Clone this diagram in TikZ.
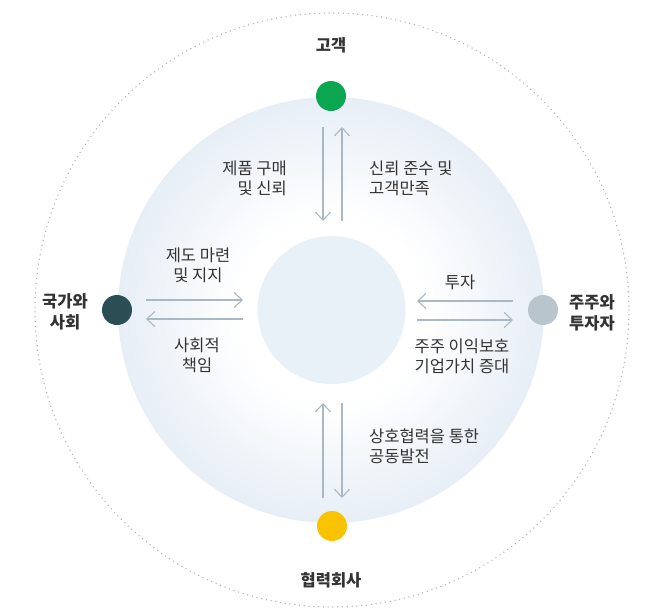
\documentclass[tikz,border=0pt]{standalone}
\usepackage{fontspec}
\setmainfont{Noto Sans CJK KR}
\usetikzlibrary{arrows.meta}
\definecolor{glowedge}{HTML}{E7EEF6}
\definecolor{coreblue}{HTML}{E9F1F8}
\definecolor{arrowc}{HTML}{A9B8C3}
\definecolor{dotline}{HTML}{A9B3BD}
\definecolor{cgreen}{HTML}{0AA650}
\definecolor{cteal}{HTML}{2A4E53}
\definecolor{cgrey}{HTML}{B9C5CD}
\definecolor{cyellow}{HTML}{F9C300}
\definecolor{txt}{HTML}{333333}
\pgfdeclareradialshading{glow}{\pgfpoint{0bp}{0bp}}{color(0bp)=(white); color(11bp)=(white); color(25bp)=(glowedge); color(50bp)=(glowedge)}
\tikzset{
  lbl/.style={text=txt, font=\fontsize{16.5}{20}\selectfont, inner sep=0pt},
  ttl/.style={text=txt, font=\fontsize{16.5}{20.5}\selectfont\bfseries, inner sep=0pt, align=center},
  dotnode/.style={circle, minimum size=30pt, inner sep=0pt},
  flow/.style={draw=arrowc, line width=1.3pt, -{Straight Barb[length=8pt,width=15pt,line width=1.1pt]}}
}
\begin{document}
\begin{tikzpicture}[x=1pt,y=-1pt]
\useasboundingbox (0,0) rectangle (646,611);
% outer dotted ring
\draw[dotline, line width=1.5pt, line cap=round, dash pattern=on 0pt off 4.8pt] (332,310) circle (297);
% big glow disc
\shade[shading=glow] (331,310) circle (213);
% core
\fill[coreblue] (331.5,310) circle (74);
\node[circle, minimum size=148pt, inner sep=0pt] (core) at (331.5,310) {};
% dots
\node[dotnode, fill=cgreen] (cust) at (331,96) {};
\node[dotnode, fill=cteal] (gov) at (117,310) {};
\node[dotnode, fill=cgrey] (inv) at (543,310) {};
\node[dotnode, fill=cyellow] (part) at (332,526) {};
% titles
\node[ttl] (tcust) at (331,45) {고객};
\node[ttl] (tgov) at (65,312) {국가와\\사회};
\node[ttl] (tinv) at (592,313) {주주와\\투자자};
\node[ttl] (tpart) at (331,580) {협력회사};
% arrow end coordinates
\coordinate (t1a) at (323,127); \coordinate (t1b) at (323,221);
\coordinate (t2a) at (342,221); \coordinate (t2b) at (342,127);
\coordinate (l1a) at (146,300); \coordinate (l1b) at (243,300);
\coordinate (l2a) at (243,319); \coordinate (l2b) at (146,319);
\coordinate (r1a) at (513,301); \coordinate (r1b) at (417,301);
\coordinate (r2a) at (417,320); \coordinate (r2b) at (513,320);
\coordinate (b1a) at (323,498); \coordinate (b1b) at (323,403);
\coordinate (b2a) at (342,403); \coordinate (b2b) at (342,498);
\draw[flow] (t1a) -- (t1b);
\draw[flow] (t2a) -- (t2b);
\draw[flow] (l1a) -- (l1b);
\draw[flow] (l2a) -- (l2b);
\draw[flow] (r1a) -- (r1b);
\draw[flow] (r2a) -- (r2b);
\draw[flow] (b1a) -- (b1b);
\draw[flow] (b2a) -- (b2b);
% labels
\node[lbl, anchor=east, align=right] (lt1) at (287,178) {제품 구매\\및 신뢰};
\node[lbl, anchor=west, align=left] (lt2) at (369,178) {신뢰 준수 및\\고객만족};
\node[lbl, align=center] (ll1) at (198,265) {제도 마련\\및 지지};
\node[lbl, align=center] (ll2) at (197,355) {사회적\\책임};
\node[lbl, align=center] (lr1) at (460,282) {투자};
\node[lbl, align=center] (lr2) at (462,356) {주주 이익보호\\기업가치 증대};
\node[lbl, anchor=west, align=left] (lb1) at (369,446) {상호협력을 통한\\공동발전};
\end{tikzpicture}
\end{document}
